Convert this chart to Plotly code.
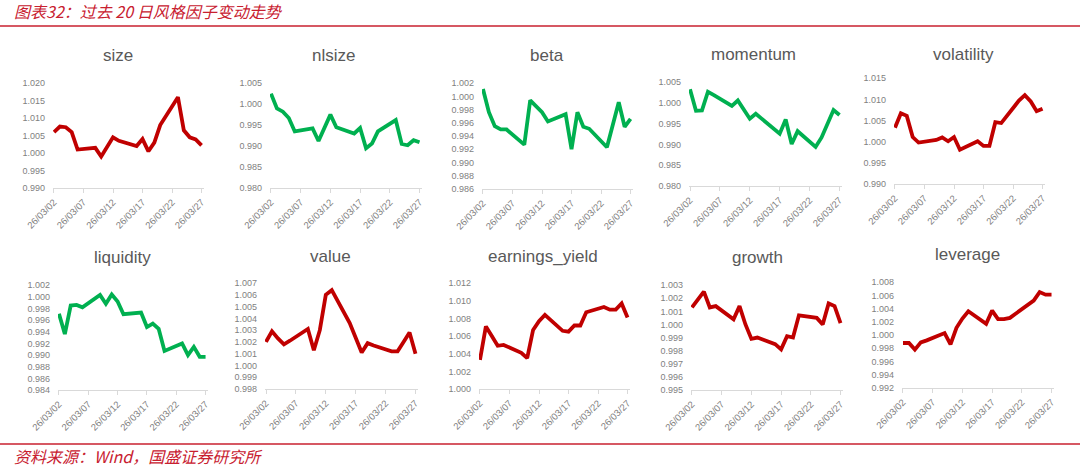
import plotly.graph_objects as go

# ---------------- data ----------------
dates = ["2026-03-02", "2026-03-03", "2026-03-04", "2026-03-05", "2026-03-06",
         "2026-03-09", "2026-03-10", "2026-03-11", "2026-03-12", "2026-03-13",
         "2026-03-16", "2026-03-17", "2026-03-18", "2026-03-19", "2026-03-20",
         "2026-03-23", "2026-03-24", "2026-03-25", "2026-03-26", "2026-03-27"]
tick_dates = ["2026-03-02", "2026-03-07", "2026-03-12", "2026-03-17", "2026-03-22", "2026-03-27"]

factor_names = ["size", "nlsize", "beta", "momentum", "volatility",
                "liquidity", "value", "earnings_yield", "growth", "leverage"]

size = [1.0060, 1.0076, 1.0074, 1.0060, 1.0010, 1.0015, 0.9990, 1.0020, 1.0045, 1.0035,
        1.0020, 1.0040, 1.0005, 1.0030, 1.0080, 1.0160, 1.0065, 1.0045, 1.0039, 1.0022]
nlsize = [1.0025, 0.9990, 0.9982, 0.9967, 0.9935, 0.9942, 0.9912, 0.9943, 0.9975, 0.9945,
          0.9930, 0.9943, 0.9895, 0.9906, 0.9935, 0.9962, 0.9905, 0.9902, 0.9914, 0.9909]
beta = [1.0011, 0.9976, 0.9955, 0.9950, 0.9950, 0.9927, 0.9994, 0.9985, 0.9976, 0.9962,
        0.9973, 0.9920, 0.9976, 0.9954, 0.9951, 0.9923, 0.9958, 0.9991, 0.9954, 0.9966]
momentum = [1.0033, 0.9981, 0.9982, 1.0027, 1.0019, 0.9993, 1.0006, 0.9984, 0.9962, 0.9974,
            0.9938, 0.9926, 0.9960, 0.9901, 0.9932, 0.9894, 0.9917, 0.9948, 0.9983, 0.9971]
volatility = [1.0033, 1.0067, 1.0061, 1.0011, 0.9998, 1.0004, 1.0010, 1.0001, 1.0011, 0.9981,
              1.0001, 0.9990, 0.9990, 1.0046, 1.0044, 1.0097, 1.0110, 1.0095, 1.0072, 1.0078]
liquidity = [0.9971, 0.9936, 0.9985, 0.9986, 0.9982, 1.0003, 0.9988, 1.0004, 0.9992, 0.9970,
             0.9973, 0.9948, 0.9954, 0.9945, 0.9907, 0.9920, 0.9900, 0.9914, 0.9897, 0.9897]
value = [1.0020, 1.0029, 1.0023, 1.0018, 1.0021, 1.0031, 1.0013, 1.0030, 1.0060, 1.0064,
         1.0036, 1.0024, 1.0011, 1.0019, 1.0017, 1.0012, 1.0012, 1.0020, 1.0028, 1.0010]
earnings_yield = [1.0033, 1.0071, 1.0060, 1.0049, 1.0050, 1.0041, 1.0035, 1.0067, 1.0077, 1.0084,
                  1.0066, 1.0065, 1.0072, 1.0072, 1.0087, 1.0093, 1.0090, 1.0090, 1.0097, 1.0081]
growth = [1.0013, 1.0019, 1.0025, 1.0013, 1.0014, 1.0004, 1.0014, 1.0000, 0.9989, 0.9990,
          0.9985, 0.9981, 0.9991, 0.9990, 1.0007, 1.0005, 1.0000, 1.0016, 1.0014, 1.0001]
leverage = [0.9988, 0.9988, 0.9978, 0.9989, 0.9992, 1.0003, 0.9986, 1.0011, 1.0025, 1.0036,
            1.0017, 1.0037, 1.0024, 1.0024, 1.0026, 1.0045, 1.0052, 1.0065, 1.0061, 1.0061]

series = [size, nlsize, beta, momentum, volatility,
          liquidity, value, earnings_yield, growth, leverage]

# y axis (min, max, step) per panel
y_axes = [(0.990, 1.020, 0.005), (0.980, 1.005, 0.005), (0.986, 1.002, 0.002),
          (0.980, 1.005, 0.005), (0.990, 1.015, 0.005), (0.984, 1.002, 0.002),
          (0.998, 1.007, 0.001), (1.000, 1.012, 0.002), (0.995, 1.003, 0.001),
          (0.992, 1.008, 0.002)]

header_text = "图表32：过去 20 日风格因子变动走势"
footer_text = "资料来源：Wind，国盛证券研究所"

# ---------------- style / layout ----------------
W, H = 1080, 468
RED = "#C00000"
GREEN = "#00B050"
TXT_RED = "#C8202F"
colors = [RED, GREEN, GREEN, GREEN, RED, GREEN, RED, RED, RED, RED]


def fx(px):
    return px / W


def fy(py):
    return 1 - py / H


# plot-area boxes in target pixels: (x0, x1, ytop, ybottom)
boxes = [(53, 204, 83, 188), (270, 422, 83, 188), (482, 633, 83, 189),
         (689, 842, 82, 186), (894, 1045, 78, 184),
         (58, 208, 285, 390), (265, 418, 283, 389), (479, 630, 283, 389),
         (691, 843, 285, 390), (902, 1054, 282, 388)]
title_pos = [(118, 55), (333, 55), (547, 55), (753, 54), (963, 54),
             (122, 257), (330, 256), (543, 256), (757, 257), (967, 255)]

fig = go.Figure()
layout = dict(
    width=W, height=H,
    margin=dict(l=0, r=0, t=0, b=0, autoexpand=False),
    paper_bgcolor="white", plot_bgcolor="white",
    showlegend=False,
    font=dict(family="Liberation Sans, Arial, sans-serif"),
)

annotations = []
for i, (name, vals, col) in enumerate(zip(factor_names, series, colors)):
    k = i + 1
    xa = "x" if k == 1 else f"x{k}"
    ya = "y" if k == 1 else f"y{k}"
    fig.add_trace(go.Scatter(x=dates, y=vals, mode="lines",
                             line=dict(color=col, width=3.8),
                             xaxis=xa, yaxis=ya, name=name, hoverinfo="x+y"))
    x0, x1, yt, yb = boxes[i]
    ymin, ymax, step = y_axes[i]
    layout["xaxis" if k == 1 else f"xaxis{k}"] = dict(
        domain=[fx(x0), fx(x1)], anchor=ya, type="date", automargin=False,
        range=["2026-03-01 20:00", "2026-03-27 10:00"],
        tickmode="array", tickvals=tick_dates, tickformat="%y/%m/%d",
        tickangle=-45, tickfont=dict(size=9.5, color="#7f7f7f"),
        showline=True, linecolor="#d9d9d9", linewidth=1,
        ticks="outside", ticklen=4, tickcolor="#d9d9d9",
        showgrid=False, zeroline=False,
    )
    layout["yaxis" if k == 1 else f"yaxis{k}"] = dict(
        domain=[fy(yb), fy(yt)], anchor=xa, automargin=False,
        range=[ymin, ymax + step * 0.01],
        tick0=ymin, dtick=step, tickformat=".3f",
        tickfont=dict(size=9, color="#7f7f7f"),
        showline=False, showgrid=False, zeroline=False, ticks="",
        ticklabelstandoff=7,
    )
    tx, ty = title_pos[i]
    annotations.append(dict(text=name, x=fx(tx), y=fy(ty), xref="paper", yref="paper",
                            xanchor="center", yanchor="middle", showarrow=False,
                            font=dict(size=17, color="#595959",
                                      family="Liberation Sans, Arial, sans-serif")))

annotations.append(dict(text=f"<i>{header_text}</i>", x=fx(12), y=fy(11),
                        xref="paper", yref="paper", xanchor="left", yanchor="middle",
                        showarrow=False,
                        font=dict(size=16, color=TXT_RED,
                                  family="Noto Sans CJK SC, Liberation Sans, sans-serif")))
annotations.append(dict(text=f"<i>{footer_text}</i>", x=fx(12), y=fy(456),
                        xref="paper", yref="paper", xanchor="left", yanchor="middle",
                        showarrow=False,
                        font=dict(size=16, color=TXT_RED,
                                  family="Noto Sans CJK SC, Liberation Sans, sans-serif")))
layout["annotations"] = annotations
layout["shapes"] = [
    dict(type="line", xref="paper", yref="paper", x0=0, x1=1,
         y0=fy(26), y1=fy(26), line=dict(color=TXT_RED, width=1.5)),
    dict(type="line", xref="paper", yref="paper", x0=0, x1=1,
         y0=fy(444), y1=fy(444), line=dict(color=TXT_RED, width=1.5)),
]
fig.update_layout(**layout)
# place the figure flush with the page corner (remove default body margin)
fig.write_html("out.html",
               config={"displayModeBar": False, "staticPlot": True},
               post_script="document.body.style.margin='0px';document.body.style.overflow='hidden';")
